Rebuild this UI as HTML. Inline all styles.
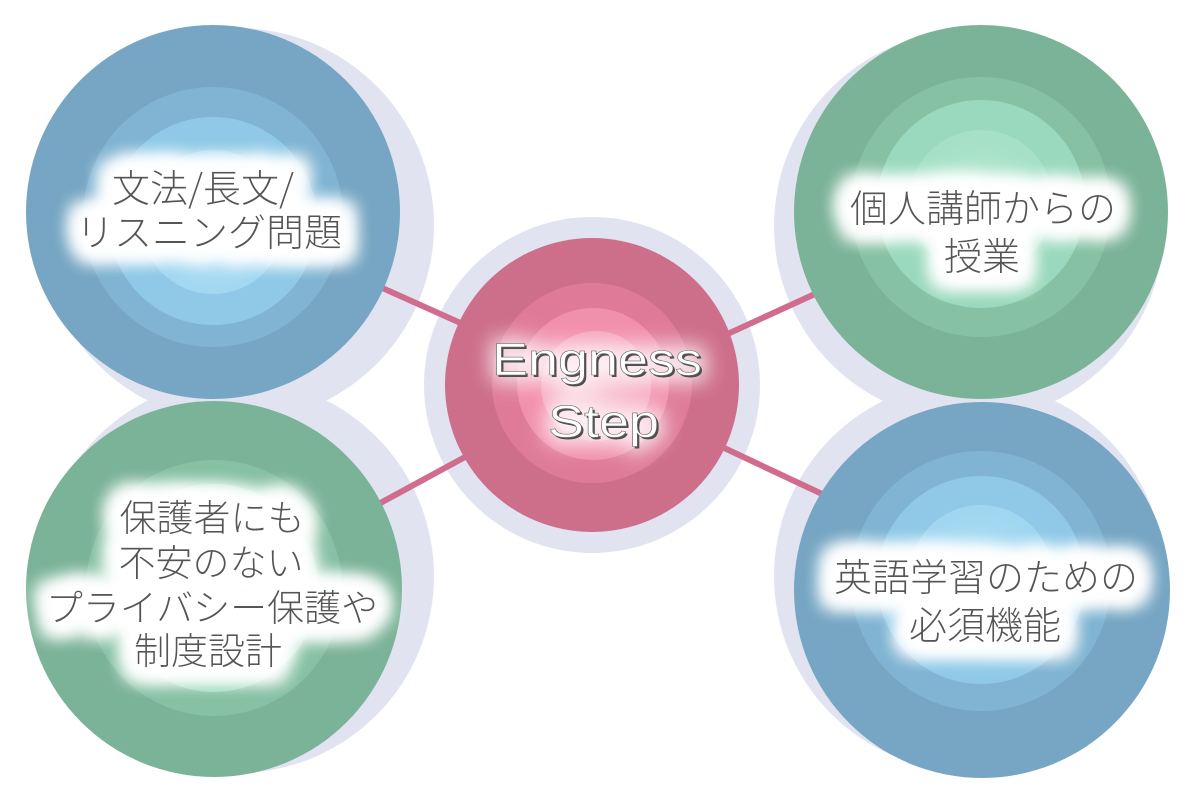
<!DOCTYPE html>
<html>
<head>
<meta charset="utf-8">
<style>
  html, body { margin:0; padding:0; background:#ffffff; }
  body { width:1200px; height:800px; overflow:hidden; }
  svg { display:block; }
  .jp { font-family: "Liberation Sans", "Noto Sans CJK JP", sans-serif; font-weight:300; fill:#555555; }
  .jpn { font-family: "Noto Sans CJK JP", "Liberation Sans", sans-serif; font-weight:300; fill:#555555; }
  .en { font-family: "Liberation Sans", sans-serif; }
</style>
</head>
<body>
<svg width="1200" height="800" viewBox="0 0 1200 800" xmlns="http://www.w3.org/2000/svg">
  <defs>
    <filter id="glow" x="-40%" y="-80%" width="180%" height="260%">
      <feMorphology in="SourceAlpha" operator="dilate" radius="9" result="d"/>
      <feGaussianBlur in="d" stdDeviation="10" result="b"/>
      <feFlood flood-color="#ffffff" result="w"/>
      <feComposite in="w" in2="b" operator="in" result="g"/>
      <feMerge>
        <feMergeNode in="g"/>
        <feMergeNode in="g"/>
        <feMergeNode in="g"/>
        <feMergeNode in="g"/>
        <feMergeNode in="SourceGraphic"/>
      </feMerge>
    </filter>
    <filter id="glow2" x="-40%" y="-80%" width="180%" height="260%">
      <feMorphology in="SourceAlpha" operator="dilate" radius="5" result="d"/>
      <feGaussianBlur in="d" stdDeviation="10" result="b"/>
      <feFlood flood-color="#ffffff" flood-opacity="0.8" result="w"/>
      <feComposite in="w" in2="b" operator="in" result="g"/>
      <feMerge>
        <feMergeNode in="g"/>
        <feMergeNode in="SourceGraphic"/>
      </feMerge>
    </filter>
    <radialGradient id="gb" cx="50%" cy="55%" r="50%">
      <stop offset="0" stop-color="#b8e3f6"/>
      <stop offset="1" stop-color="#a0d6f0"/>
    </radialGradient>
    <radialGradient id="gg" cx="50%" cy="55%" r="50%">
      <stop offset="0" stop-color="#b8e8d3"/>
      <stop offset="1" stop-color="#a5e0c7"/>
    </radialGradient>
    <radialGradient id="gp" cx="50%" cy="55%" r="50%">
      <stop offset="0" stop-color="#f9c6d4"/>
      <stop offset="1" stop-color="#f5a8bf"/>
    </radialGradient>
  </defs>

  <!-- lavender shadows -->
  <circle cx="237" cy="225" r="197" fill="#e1e3f1"/>
  <circle cx="237" cy="576" r="197" fill="#e1e3f1"/>
  <circle cx="969" cy="226" r="195" fill="#e1e3f1"/>
  <circle cx="969" cy="576" r="195" fill="#e1e3f1"/>
  <!-- center halo -->
  <circle cx="592" cy="385" r="168" fill="#e1e3f1"/>

  <!-- connectors -->
  <g stroke="#d06d8c" stroke-width="6" stroke-linecap="butt">
    <line x1="213" y1="212" x2="592" y2="382"/>
    <line x1="213" y1="594" x2="592" y2="388"/>
    <line x1="981" y1="218" x2="592" y2="396"/>
    <line x1="982" y1="569" x2="592" y2="386"/>
  </g>

  <!-- top-left blue -->
  <circle cx="213" cy="212" r="187" fill="#76a6c3"/>
  <circle cx="213" cy="217" r="130" fill="#80b4d2"/>
  <circle cx="213" cy="221" r="104" fill="#8fc9e7"/>
  <circle cx="213" cy="222" r="72" fill="url(#gb)"/>

  <!-- bottom-left green -->
  <circle cx="214" cy="589" r="188" fill="#7bb398"/>
  <circle cx="214" cy="588" r="128" fill="#86c1a3"/>
  <circle cx="214" cy="588" r="104" fill="#9ad9bd"/>
  <circle cx="214" cy="590" r="72" fill="url(#gg)"/>

  <!-- top-right green -->
  <circle cx="981" cy="212" r="187" fill="#7bb398"/>
  <circle cx="981" cy="207" r="130" fill="#86c1a3"/>
  <circle cx="981" cy="204" r="104" fill="#9ad9bd"/>
  <circle cx="981" cy="202" r="72" fill="url(#gg)"/>

  <!-- bottom-right blue -->
  <circle cx="982" cy="590" r="188" fill="#76a6c3"/>
  <circle cx="981" cy="581" r="130" fill="#80b4d2"/>
  <circle cx="981" cy="580" r="104" fill="#8fc9e7"/>
  <circle cx="981" cy="577" r="72" fill="url(#gb)"/>

  <!-- center pink -->
  <circle cx="592" cy="385" r="147" fill="#cd6e8a"/>
  <circle cx="592" cy="383" r="100" fill="#df7b99"/>
  <circle cx="593" cy="384" r="76" fill="#f190ad"/>
  <circle cx="596" cy="386" r="55" fill="url(#gp)"/>

  <!-- labels -->
  <g font-size="38" text-anchor="middle" filter="url(#glow)">
    <text class="jpn" x="203" y="202">文法/長文/</text>
    <text class="jp" x="209" y="246">リスニング問題</text>
  </g>

  <g class="jp" font-size="37" text-anchor="middle" filter="url(#glow)">
    <text x="212" y="531">保護者にも</text>
    <text x="211" y="576">不安のない</text>
    <text x="212" y="621">プライバシー保護や</text>
    <text x="208" y="664">制度設計</text>
  </g>

  <g class="jp" font-size="38" text-anchor="middle" filter="url(#glow)">
    <text x="983" y="222">個人講師からの</text>
    <text x="982" y="270">授業</text>
  </g>

  <g class="jp" font-size="38" text-anchor="middle" filter="url(#glow)">
    <text x="986" y="591">英語学習のための</text>
    <text x="985" y="639">必須機能</text>
  </g>

  <!-- center title -->
  <g class="en" font-size="45" filter="url(#glow2)">
    <text x="494" y="377" textLength="210" lengthAdjust="spacingAndGlyphs" fill="#505050">Engness</text>
    <text x="550" y="439" textLength="111" lengthAdjust="spacingAndGlyphs" fill="#505050">Step</text>
    <text x="492" y="375" textLength="210" lengthAdjust="spacingAndGlyphs" fill="#ffffff" stroke="#666666" stroke-width="0.6">Engness</text>
    <text x="548" y="437" textLength="111" lengthAdjust="spacingAndGlyphs" fill="#ffffff" stroke="#666666" stroke-width="0.6">Step</text>
  </g>
</svg>
</body>
</html>
